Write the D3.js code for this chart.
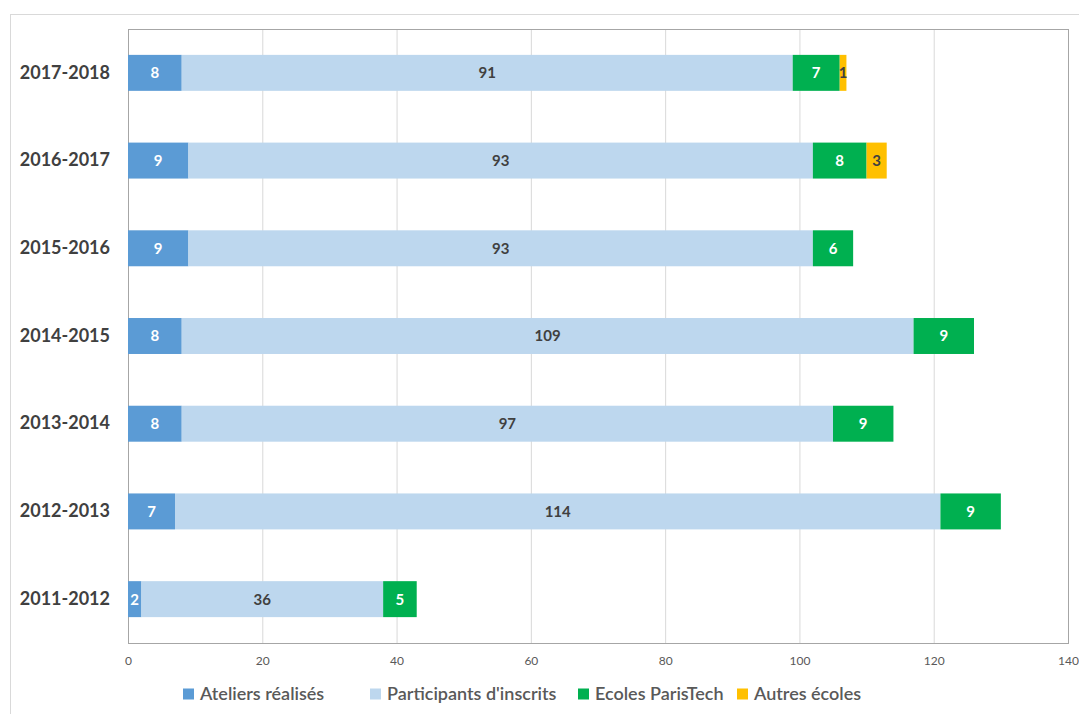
<!DOCTYPE html>
<html>
<head>
<meta charset="utf-8">
<script src="https://cdn.jsdelivr.net/npm/d3@7"></script>
<style>
  body { margin: 0; background: #fff; }
  svg { font-family: Lato, "Open Sans", sans-serif; }
</style>
</head>
<body>
<div id="chart"></div>
<script>
// categories, top to bottom
const years = ["2017-2018", "2016-2017", "2015-2016", "2014-2015", "2013-2014", "2012-2013", "2011-2012"];
const seriesNames = ["Ateliers réalisés", "Participants d'inscrits", "Ecoles ParisTech", "Autres écoles"];
const ateliers = [8, 9, 9, 8, 8, 7, 2];
const participants = [91, 93, 93, 109, 97, 114, 36];
const ecoles = [7, 8, 6, 9, 9, 9, 5];
const autres = [1, 3, 0, 0, 0, 0, 0];
const xTicks = [0, 20, 40, 60, 80, 100, 120, 140];

const colors = ["#5b9bd5", "#bdd7ee", "#00b050", "#ffc000"];
const labelColors = ["#fff", "#404040", "#fff", "#404040"];

const W = 1079, H = 714;
const margin = { top: 29, right: 11, bottom: 71, left: 128 };

const svg = d3.select("#chart").append("svg")
  .attr("width", W)
  .attr("height", H);

// outer chart border
svg.append("rect")
  .attr("x", 10.5).attr("y", 14.5)
  .attr("width", W - 10).attr("height", H)
  .attr("fill", "none").attr("stroke", "#d9d9d9");

const x = d3.scaleLinear().domain([0, 140]).range([margin.left, W - margin.right]);
const y = d3.scaleBand().domain(years).range([margin.top, H - margin.bottom]).paddingInner(0.59).paddingOuter(0.295);

// gridlines
svg.append("g")
  .selectAll("line")
  .data(xTicks.slice(1, -1))
  .join("line")
  .attr("x1", d => x(d) + 0.5).attr("x2", d => x(d) + 0.5)
  .attr("y1", margin.top).attr("y2", H - margin.bottom)
  .attr("stroke", "#d9d9d9");

// plot frame
svg.append("rect")
  .attr("x", x(0) + 0.5).attr("y", margin.top + 0.5)
  .attr("width", x(140) - x(0)).attr("height", H - margin.bottom - margin.top)
  .attr("fill", "none").attr("stroke", "#a6a6a6");

// stacked data
const table = years.map((yr, i) => ({
  year: yr,
  s0: ateliers[i], s1: participants[i], s2: ecoles[i], s3: autres[i]
}));
const stacked = d3.stack().keys(["s0", "s1", "s2", "s3"])(table);

const layers = svg.append("g")
  .selectAll("g")
  .data(stacked)
  .join("g")
  .attr("fill", (d, i) => colors[i]);

layers.selectAll("rect")
  .data(d => d.filter(p => p[1] - p[0] > 0))
  .join("rect")
  .attr("x", d => x(d[0]))
  .attr("y", d => y(d.data.year))
  .attr("width", d => x(d[1]) - x(d[0]))
  .attr("height", y.bandwidth());

stacked.forEach((layer, i) => {
  svg.append("g")
    .selectAll("text")
    .data(layer.filter(p => p[1] - p[0] > 0))
    .join("text")
    .attr("x", d => (x(d[0]) + x(d[1])) / 2)
    .attr("y", d => y(d.data.year) + y.bandwidth() / 2)
    .attr("dy", "0.36em")
    .attr("text-anchor", "middle")
    .attr("font-size", 15)
    .attr("font-weight", "bold")
    .attr("fill", labelColors[i])
    .text(d => d[1] - d[0]);
});

// x axis labels
svg.append("g")
  .attr("transform", "translate(0," + (H - margin.bottom) + ")")
  .call(d3.axisBottom(x).tickValues(xTicks).tickSize(0).tickPadding(13))
  .call(g => g.select(".domain").remove())
  .call(g => g.selectAll("text").attr("font-family", "Lato, sans-serif").attr("font-size", 12).attr("fill", "#595959"));

// y axis labels
svg.append("g")
  .attr("transform", "translate(" + margin.left + ",0)")
  .call(d3.axisLeft(y).tickSize(0).tickPadding(18))
  .call(g => g.select(".domain").remove())
  .call(g => g.selectAll("text").attr("font-family", "Lato, sans-serif").attr("font-size", 18).attr("font-weight", "bold").attr("fill", "#404040"));

// legend
const legendX = [183, 370, 578, 737];
const legend = svg.append("g")
  .selectAll("g")
  .data(seriesNames)
  .join("g")
  .attr("transform", (d, i) => "translate(" + legendX[i] + ",694)");
legend.append("rect")
  .attr("x", 0).attr("y", -5.5).attr("width", 11).attr("height", 11)
  .attr("fill", (d, i) => colors[i]);
legend.append("text")
  .attr("x", 17).attr("dy", "0.36em")
  .attr("font-size", 18)
  .attr("font-weight", 600)
  .attr("fill", "#595959")
  .text(d => d);
</script>
</body>
</html>
